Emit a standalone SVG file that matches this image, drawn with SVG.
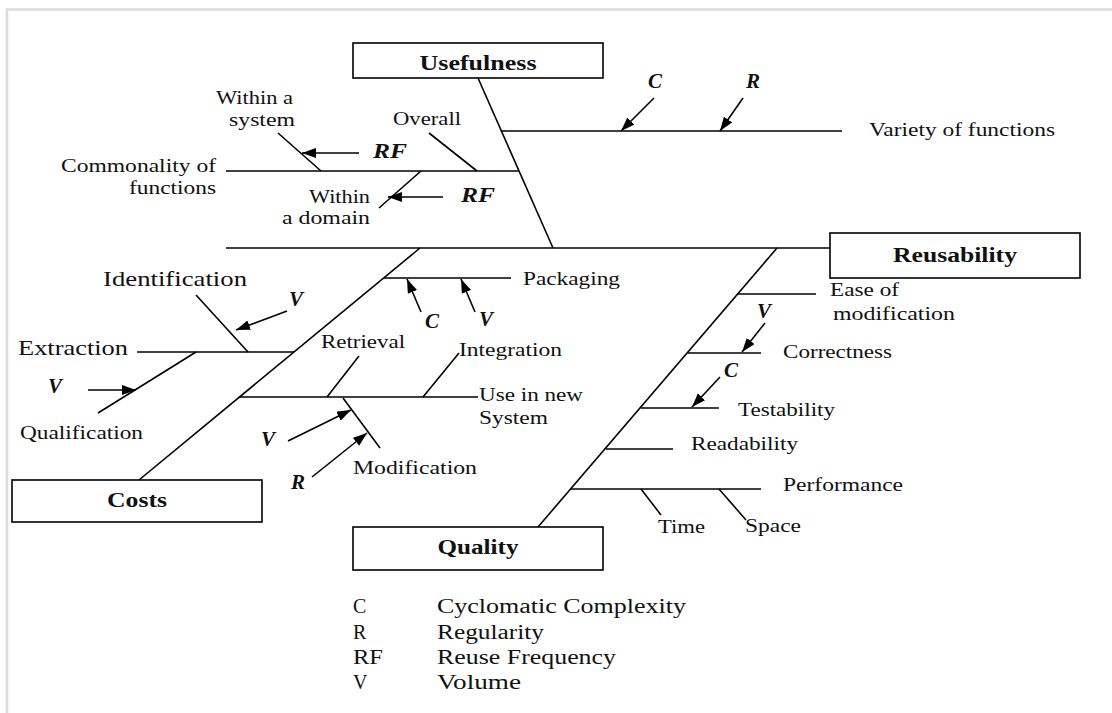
<svg xmlns="http://www.w3.org/2000/svg" width="1112" height="713" viewBox="0 0 1112 713">
<defs>
<marker id="ah" markerUnits="userSpaceOnUse" markerWidth="15" markerHeight="11" refX="14" refY="5" orient="auto">
<path d="M0,0 L14,5 L0,10 z" fill="#000"/>
</marker>
<style>
.ln{stroke:#000;stroke-width:1.6;fill:none;stroke-linecap:butt}
.ar{stroke:#000;stroke-width:1.6;fill:none;marker-end:url(#ah)}
.bx{fill:#fff;stroke:#000;stroke-width:1.6}
.t{font-family:"Liberation Serif","Times New Roman",serif;font-size:19px;fill:#111}
.tl{font-family:"Liberation Serif","Times New Roman",serif;font-size:21px;fill:#111}
.tb{font-family:"Liberation Serif","Times New Roman",serif;font-size:20px;font-weight:bold;fill:#111}
.ti{font-family:"Liberation Serif","Times New Roman",serif;font-size:21px;font-weight:bold;font-style:italic;fill:#111}
.lg{font-family:"Liberation Serif","Times New Roman",serif;font-size:20px;fill:#111}
</style>
</defs>
<rect x="0" y="0" width="1112" height="713" fill="#fff"/>
<path d="M7,713 L7,9.5 L1112,9.5" stroke="#dcdcdc" stroke-width="2.5" fill="none"/>

<g id="connectors">
<line class="ln" x1="478" y1="78" x2="553" y2="248"/>
<line class="ln" x1="226" y1="248" x2="830" y2="248" stroke-width="2"/>
<line class="ln" x1="420" y1="248" x2="139" y2="480"/>
<line class="ln" x1="777" y1="248" x2="538" y2="527"/>
<line class="ln" x1="501" y1="131" x2="842" y2="131"/>
<line class="ar" x1="654" y1="98" x2="621" y2="131"/>
<line class="ar" x1="743" y1="98" x2="720" y2="131"/>
<line class="ln" x1="226" y1="171" x2="519" y2="171"/>
<line class="ln" x1="278" y1="133" x2="321" y2="171"/>
<line class="ar" x1="359" y1="153" x2="302" y2="153"/>
<line class="ln" x1="429" y1="133" x2="477" y2="171"/>
<line class="ln" x1="421" y1="171" x2="379" y2="208"/>
<line class="ar" x1="443" y1="197" x2="388" y2="197"/>
<line class="ln" x1="384" y1="278" x2="511" y2="278"/>
<line class="ar" x1="421" y1="312" x2="407" y2="279"/>
<line class="ar" x1="475" y1="312" x2="461" y2="279"/>
<line class="ln" x1="137" y1="352" x2="294" y2="352" stroke-width="2"/>
<line class="ln" x1="196" y1="295" x2="248" y2="352"/>
<line class="ar" x1="287" y1="311" x2="236" y2="330"/>
<line class="ln" x1="196" y1="352" x2="98" y2="413"/>
<line class="ar" x1="88" y1="390" x2="136" y2="390"/>
<line class="ln" x1="239" y1="397" x2="478" y2="397"/>
<line class="ln" x1="359" y1="356" x2="327" y2="397"/>
<line class="ln" x1="459" y1="353" x2="423" y2="397"/>
<line class="ln" x1="343" y1="398" x2="380" y2="448"/>
<line class="ar" x1="288" y1="441" x2="351" y2="410"/>
<line class="ar" x1="312" y1="477" x2="367" y2="433"/>
<line class="ln" x1="738" y1="294" x2="816" y2="294"/>
<line class="ln" x1="688" y1="353" x2="761" y2="353"/>
<line class="ar" x1="765" y1="323" x2="742" y2="352"/>
<line class="ln" x1="641" y1="408" x2="719" y2="408"/>
<line class="ar" x1="720" y1="377" x2="692" y2="407"/>
<line class="ln" x1="606" y1="449" x2="673" y2="449"/>
<line class="ln" x1="571" y1="489" x2="761" y2="489" stroke-width="2"/>
<line class="ln" x1="641" y1="489" x2="661" y2="515"/>
<line class="ln" x1="719" y1="489" x2="746" y2="520"/>
</g>

<g id="usefulness">
<rect class="bx" x="353" y="43" width="250" height="35"/>
<text class="tb" x="419.5" y="70" textLength="117" lengthAdjust="spacingAndGlyphs">Usefulness</text>
</g>
<g id="reusability">
<rect class="bx" x="830" y="233" width="250" height="45"/>
<text class="tb" x="893" y="262" textLength="124" lengthAdjust="spacingAndGlyphs">Reusability</text>
</g>
<g id="costs">
<rect class="bx" x="12" y="480" width="250" height="42"/>
<text class="tb" x="107" y="507" textLength="60" lengthAdjust="spacingAndGlyphs">Costs</text>
</g>
<g id="quality">
<rect class="bx" x="353" y="527" width="250" height="43"/>
<text class="tb" x="437.5" y="554" textLength="81" lengthAdjust="spacingAndGlyphs">Quality</text>
</g>

<g id="usefulness-labels">
<text class="ti" x="648" y="88">C</text>
<text class="ti" x="746" y="88">R</text>
<text class="t" x="869" y="136" textLength="186" lengthAdjust="spacingAndGlyphs">Variety of functions</text>
<text class="t" x="216" y="104" textLength="77" lengthAdjust="spacingAndGlyphs">Within a</text>
<text class="t" x="229" y="126" textLength="66" lengthAdjust="spacingAndGlyphs">system</text>
<text class="t" x="393" y="125" textLength="68" lengthAdjust="spacingAndGlyphs">Overall</text>
<text class="t" x="61" y="172" textLength="155" lengthAdjust="spacingAndGlyphs">Commonality of</text>
<text class="t" x="129" y="194" textLength="87" lengthAdjust="spacingAndGlyphs">functions</text>
<text class="t" x="309" y="203" textLength="61" lengthAdjust="spacingAndGlyphs">Within</text>
<text class="t" x="282" y="224" textLength="88" lengthAdjust="spacingAndGlyphs">a domain</text>
<text class="ti" x="373" y="158" textLength="34" lengthAdjust="spacingAndGlyphs">RF</text>
<text class="ti" x="461" y="202" textLength="34" lengthAdjust="spacingAndGlyphs">RF</text>
</g>

<g id="costs-labels">
<text class="tl" x="103" y="286" textLength="144" lengthAdjust="spacingAndGlyphs">Identification</text>
<text class="tl" x="18" y="355" textLength="110" lengthAdjust="spacingAndGlyphs">Extraction</text>
<text class="ti" x="289" y="306">V</text>
<text class="ti" x="48" y="393">V</text>
<text class="t" x="20" y="439" textLength="123" lengthAdjust="spacingAndGlyphs">Qualification</text>
<text class="t" x="523" y="285" textLength="97" lengthAdjust="spacingAndGlyphs">Packaging</text>
<text class="ti" x="425" y="328">C</text>
<text class="ti" x="479" y="326">V</text>
<text class="t" x="321" y="348" textLength="84" lengthAdjust="spacingAndGlyphs">Retrieval</text>
<text class="t" x="459" y="356" textLength="103" lengthAdjust="spacingAndGlyphs">Integration</text>
<text class="t" x="479" y="401" textLength="104" lengthAdjust="spacingAndGlyphs">Use in new</text>
<text class="t" x="479" y="424" textLength="69" lengthAdjust="spacingAndGlyphs">System</text>
<text class="ti" x="261" y="446">V</text>
<text class="ti" x="291" y="489">R</text>
<text class="t" x="353" y="474" textLength="124" lengthAdjust="spacingAndGlyphs">Modification</text>
</g>

<g id="quality-labels">
<text class="t" x="830" y="296" textLength="69" lengthAdjust="spacingAndGlyphs">Ease of</text>
<text class="t" x="833" y="320" textLength="122" lengthAdjust="spacingAndGlyphs">modification</text>
<text class="ti" x="757" y="318">V</text>
<text class="t" x="783" y="358" textLength="109" lengthAdjust="spacingAndGlyphs">Correctness</text>
<text class="ti" x="724" y="377">C</text>
<text class="t" x="738" y="416" textLength="97" lengthAdjust="spacingAndGlyphs">Testability</text>
<text class="t" x="691" y="450" textLength="107" lengthAdjust="spacingAndGlyphs">Readability</text>
<text class="t" x="783" y="491" textLength="120" lengthAdjust="spacingAndGlyphs">Performance</text>
<text class="t" x="658" y="533" textLength="47" lengthAdjust="spacingAndGlyphs">Time</text>
<text class="t" x="745" y="532" textLength="56" lengthAdjust="spacingAndGlyphs">Space</text>
</g>

<g id="legend">
<text class="lg" x="353" y="613">C</text>
<text class="lg" x="437" y="613" textLength="249" lengthAdjust="spacingAndGlyphs">Cyclomatic Complexity</text>
<text class="lg" x="353" y="639">R</text>
<text class="lg" x="437" y="639" textLength="107" lengthAdjust="spacingAndGlyphs">Regularity</text>
<text class="lg" x="353" y="664" textLength="30" lengthAdjust="spacingAndGlyphs">RF</text>
<text class="lg" x="437" y="664" textLength="179" lengthAdjust="spacingAndGlyphs">Reuse Frequency</text>
<text class="lg" x="353" y="689">V</text>
<text class="lg" x="437" y="689" textLength="84" lengthAdjust="spacingAndGlyphs">Volume</text>
</g>
</svg>
